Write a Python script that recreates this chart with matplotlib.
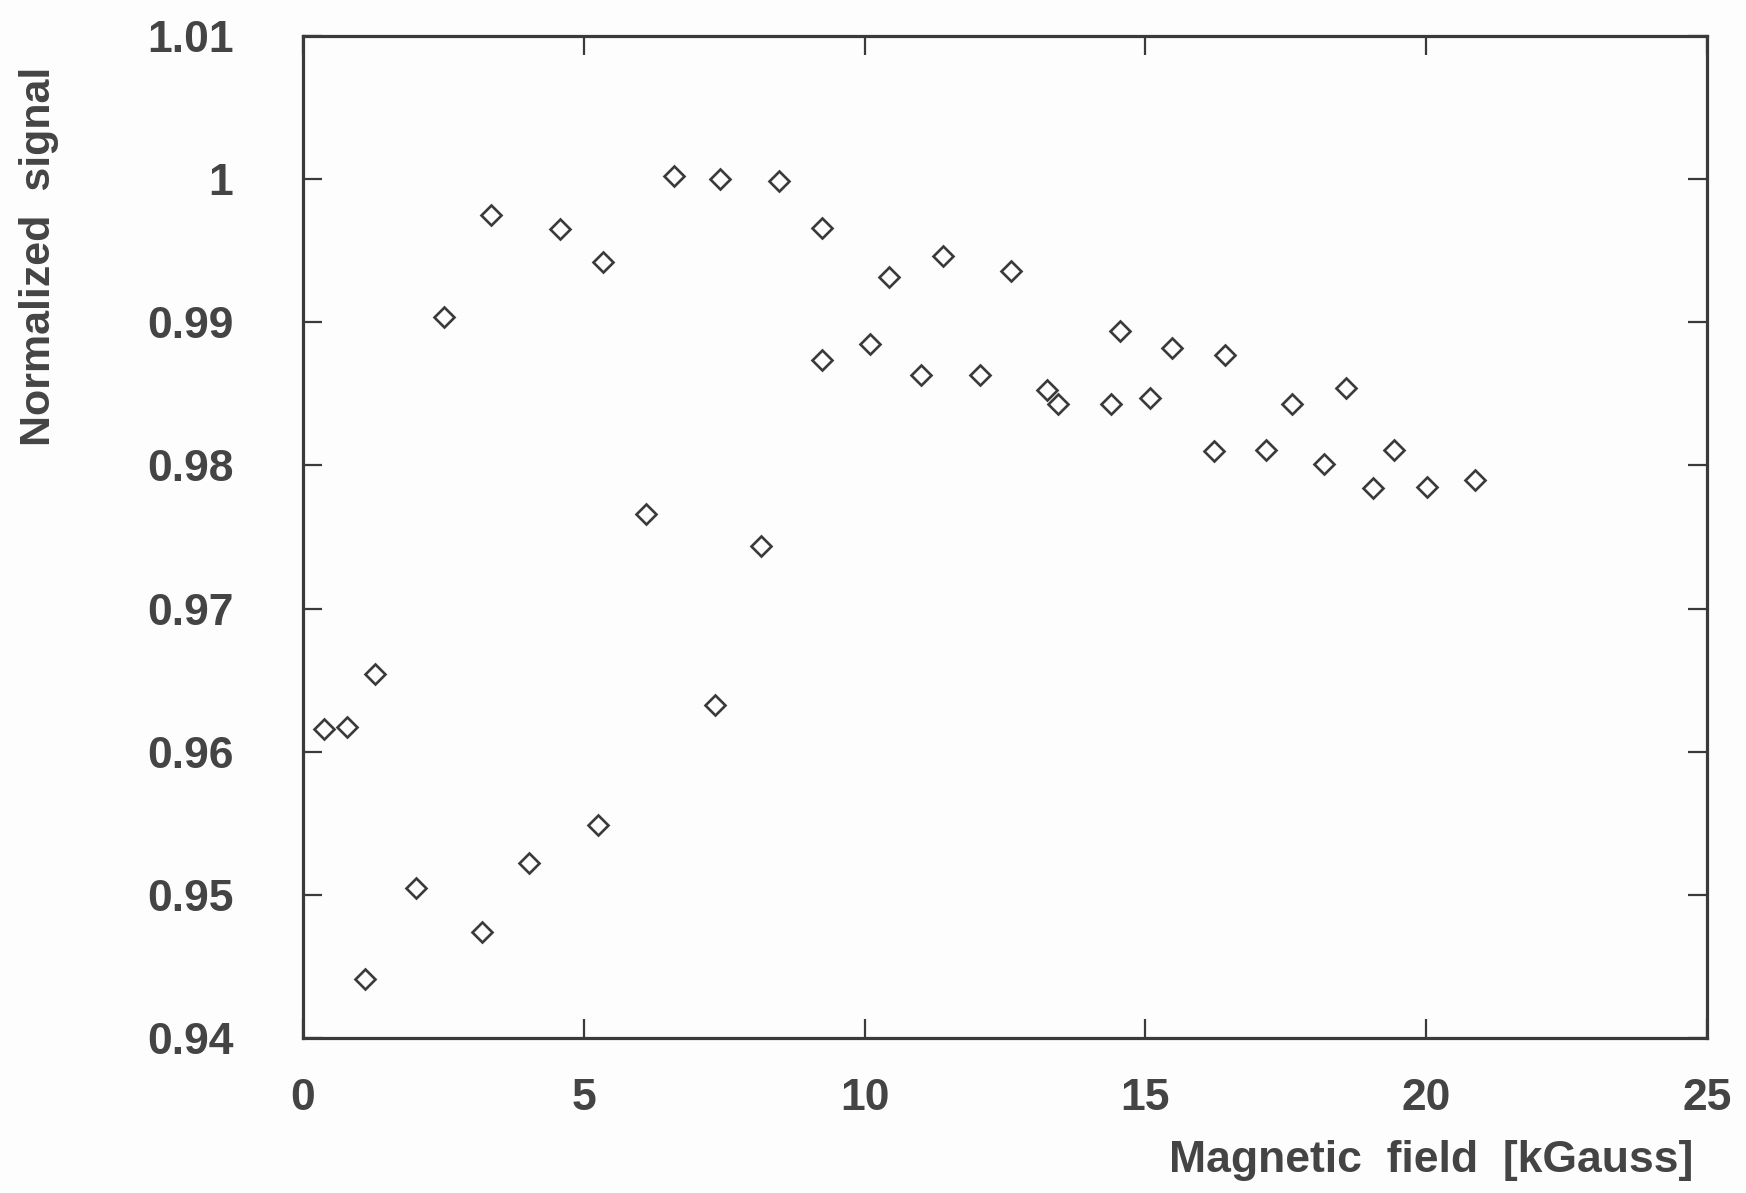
import matplotlib
matplotlib.use("Agg")
import matplotlib.pyplot as plt

# field [kGauss] and normalized signal
field = [0.38, 0.79, 1.29, 1.11, 2.02, 2.52, 3.35, 3.19, 4.03, 4.58,
         5.25, 5.35, 6.11, 6.60, 7.34, 7.43, 8.15, 8.47, 9.24, 9.24,
         10.09, 10.43, 11.00, 11.40, 12.05, 12.61, 13.24, 13.44, 14.39, 14.55,
         15.09, 15.48, 16.22, 16.41, 17.15, 17.61, 18.18, 18.58, 19.05, 19.43,
         20.02, 20.86]
signal = [0.9616, 0.9617, 0.9654, 0.9441, 0.9505, 0.9904, 0.9975, 0.9474, 0.9522, 0.9965,
          0.9549, 0.9942, 0.9766, 1.0002, 0.9633, 1.0000, 0.9744, 0.9999, 0.9966, 0.9874,
          0.9885, 0.9932, 0.9863, 0.9946, 0.9863, 0.9936, 0.9853, 0.9843, 0.9843, 0.9894,
          0.9847, 0.9882, 0.9810, 0.9877, 0.9811, 0.9843, 0.9801, 0.9854, 0.9784, 0.9811,
          0.9785, 0.9790]

xticks = [0, 5, 10, 15, 20, 25]
yticks = [0.94, 0.95, 0.96, 0.97, 0.98, 0.99, 1.0, 1.01]
ylabels = ["0.94", "0.95", "0.96", "0.97", "0.98", "0.99", "1", "1.01"]

ink = "#3a3a3a"
plt.rcParams["font.family"] = ["Liberation Sans", "DejaVu Sans"]
plt.rcParams["font.weight"] = "bold"

fig = plt.figure(figsize=(17.46, 11.93), dpi=100)
fig.patch.set_facecolor("#fdfdfd")
ax = fig.add_axes([0.1735, 0.1299, 0.8042, 0.8399])
ax.set_facecolor("#fdfdfd")

ax.plot(field, signal, linestyle="none", marker="D", markersize=10.5,
        markerfacecolor="none", markeredgecolor=ink, markeredgewidth=1.9)

ax.set_xlim(0, 25)
ax.set_ylim(0.94, 1.01)
ax.set_xticks(xticks)
ax.set_xticklabels([str(t) for t in xticks])
ax.set_yticks(yticks)
ax.set_yticklabels(ylabels)

for s in ax.spines.values():
    s.set_linewidth(2.3)
    s.set_color(ink)

ax.tick_params(axis="both", direction="in", length=14, width=1.6, color=ink,
               top=True, right=True, labelsize=32, labelcolor="#444444")
ax.tick_params(axis="y", pad=50)
ax.tick_params(axis="x", pad=29)
for lab in ax.get_xticklabels() + ax.get_yticklabels():
    lab.set_fontweight("bold")

fig.text(0.0224, 0.785, "Normalized  signal", rotation=90, ha="center", va="center",
         fontsize=31, fontweight="bold", color="#444444")
fig.text(0.9696, 0.027, "Magnetic  field  [kGauss]", ha="right", va="center",
         fontsize=32, fontweight="bold", color="#444444")

fig.savefig("out.png", dpi=100, facecolor=fig.get_facecolor())
